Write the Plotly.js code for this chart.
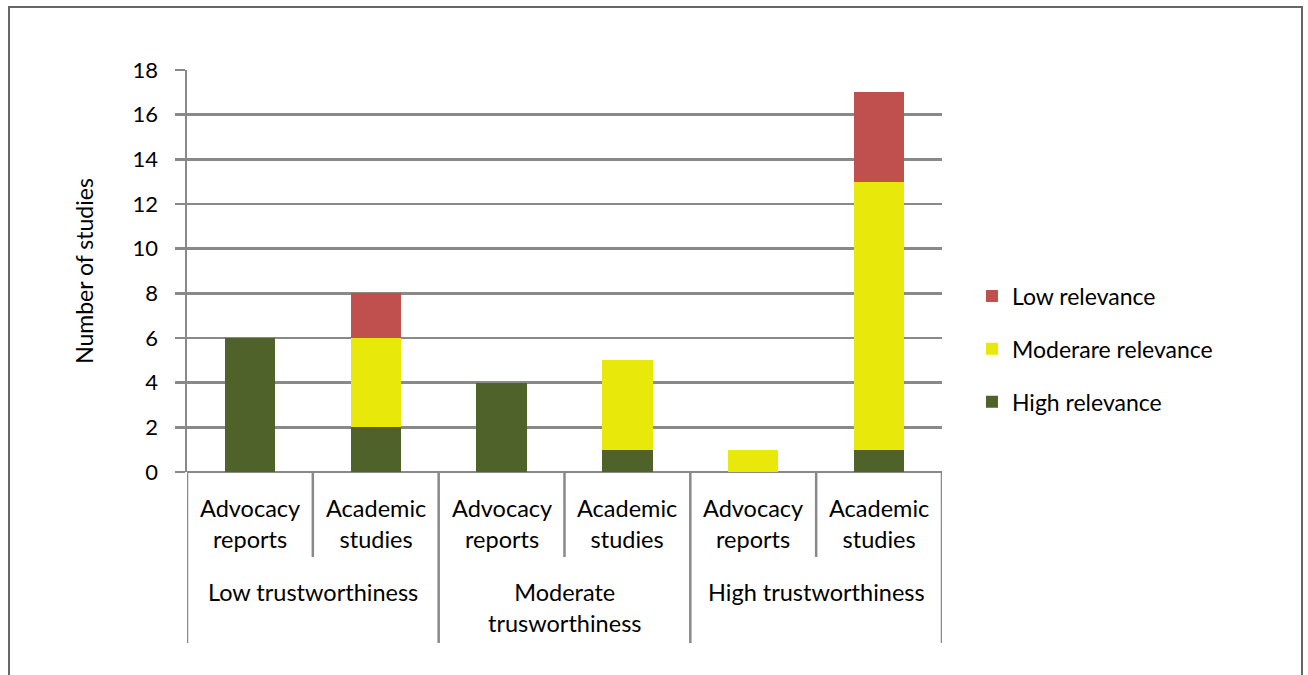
<!DOCTYPE html>
<html>
<head>
<meta charset="utf-8">
<script src="https://cdn.plot.ly/plotly-3.0.1.min.js"></script>
<style>
html,body{margin:0;padding:0;background:#fff;}
#frame{position:absolute;left:8px;top:6px;width:1295px;height:680px;border:2px solid #666;box-sizing:border-box;}
#chart{position:absolute;left:0;top:0;width:1308px;height:675px;}
</style>
</head>
<body>
<div id="frame"></div>
<div id="chart"></div>
<script>
// Data
const groups = ['Low trustworthiness', 'Moderate<br>trusworthiness', 'High trustworthiness'];
const sourceTypes = ['Advocacy<br>reports', 'Academic<br>studies'];
const highRelevance = [6, 2, 4, 1, 0, 1];
const moderateRelevance = [0, 4, 0, 4, 1, 12];
const lowRelevance = [0, 2, 0, 0, 0, 4];
const seriesNames = ['High relevance', 'Moderare relevance', 'Low relevance'];
const seriesColors = ['#4F622A', '#E8E80A', '#C0504D'];
const yTicks = [0, 2, 4, 6, 8, 10, 12, 14, 16, 18];

// category keys
const cats = [];
const catGroup = [];
const catType = [];
groups.forEach((g, gi) => sourceTypes.forEach((t, ti) => {
  cats.push(gi + '|' + ti);
  catGroup.push(gi);
  catType.push(ti);
}));

const seriesVals = [highRelevance, moderateRelevance, lowRelevance];
const traces = seriesVals.map((vals, i) => ({
  type: 'bar',
  x: cats,
  y: vals,
  name: seriesNames[i],
  legendgroup: 'g' + i,
  legendrank: 1000 - i,
  marker: {color: seriesColors[i], line: {width: 0}},
  hoverinfo: 'y+name'
}));

const fontFam = 'Lato, "Open Sans", sans-serif';
const gridCol = '#898989';
const labelSize = 23.5;

// Axis labels as annotations
const annotations = [];
cats.forEach((c, i) => {
  annotations.push({
    x: i, xref: 'x', y: -0.05, yref: 'paper', yanchor: 'top',
    text: sourceTypes[catType[i]], showarrow: false,
    font: {family: fontFam, size: labelSize, color: '#000'}, align: 'center'
  });
});
groups.forEach((g, gi) => {
  annotations.push({
    x: gi * 2 + 0.5, xref: 'x', y: -0.258, yref: 'paper', yanchor: 'top',
    text: g, showarrow: false,
    font: {family: fontFam, size: labelSize, color: '#000'}, align: 'center'
  });
});

// Divider lines
const shapes = [];
for (let k = 0; k <= cats.length; k++) {
  const xp = k - 0.5;
  const isGroup = (k % 2 === 0);
  shapes.push({
    type: 'line', xref: 'x', yref: 'paper',
    x0: xp, x1: xp, y0: 0, y1: isGroup ? -0.4254 : -0.2114,
    line: {color: gridCol, width: 2.5}
  });
}

const layout = {
  width: 1308, height: 675,
  margin: {l: 187, r: 366, t: 70, b: 203},
  paper_bgcolor: 'rgba(0,0,0,0)',
  plot_bgcolor: 'rgba(0,0,0,0)',
  barmode: 'stack',
  bargap: 0.6,
  showlegend: true,
  legend: {
    x: 1.0397, xanchor: 'left', y: 0.306, yanchor: 'middle',
    traceorder: 'grouped',
    font: {family: fontFam, size: 23, color: '#000'},
    itemwidth: 30, tracegroupgap: 20,
    bgcolor: 'rgba(0,0,0,0)'
  },
  xaxis: {
    type: 'category',
    showticklabels: false,
    showgrid: false,
    zeroline: false,
    showline: false,
    ticks: '',
    range: [-0.5, 5.5],
    fixedrange: true
  },
  yaxis: {
    range: [0, 18],
    tickvals: yTicks,
    ticktext: yTicks.map(String),
    showgrid: true,
    gridcolor: gridCol,
    gridwidth: 2.5,
    zeroline: true,
    zerolinecolor: gridCol,
    zerolinewidth: 2.5,
    showline: true,
    linecolor: gridCol,
    linewidth: 2.5,
    ticks: 'outside',
    ticklen: 10,
    tickwidth: 2.5,
    tickcolor: gridCol,
    ticklabelstandoff: 12,
    tickfont: {family: fontFam, size: 22, color: '#000'},
    title: {text: 'Number of studies', font: {family: fontFam, size: 23, color: '#000'}, standoff: 33},
    fixedrange: true
  },
  annotations: annotations,
  shapes: shapes
};

Plotly.newPlot('chart', traces, layout, {displayModeBar: false, staticPlot: true});
</script>
</body>
</html>
